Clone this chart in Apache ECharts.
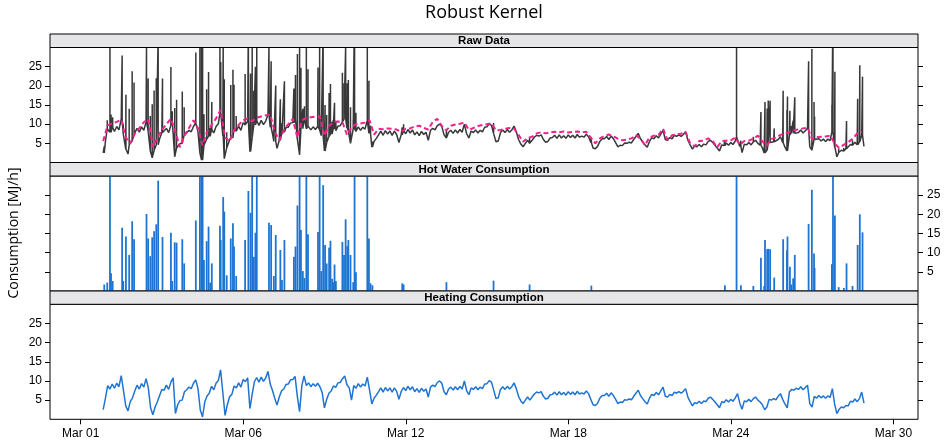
<!DOCTYPE html>
<html><head><meta charset="utf-8">
<script src="https://cdn.jsdelivr.net/npm/echarts@6/dist/echarts.min.js"></script>
<style>html,body{margin:0;padding:0;background:#fff}#c{width:944px;height:447px}</style>
</head><body><div id="c"></div>
<script>
// ---- data (x in days since the "Mar 01" tick) ----
const xTickValues = [0, 6, 12, 18, 24, 30];
const xTickLabels = ['Mar 01', 'Mar 06', 'Mar 12', 'Mar 18', 'Mar 24', 'Mar 30'];
const yTickValues = [5, 10, 15, 20, 25];
const panelTitles = ['Raw Data', 'Hot Water Consumption', 'Heating Consumption'];

// heating consumption, 2-hourly from day 0.83
const heatStart = 0.83;
const heatStepDays = 1 / 12;
const heating = [
  2.5,5.5,8.8,7.9,9.2,8.1,9.4,8.5,11.4,7.5,3.5,2.2,
  4.6,5.6,7.4,8.9,7.9,9.3,8.4,10.6,8.2,3.0,1.2,3.2,
  4.6,6.2,7.8,7.6,8.9,7.8,9.7,10.8,1.5,3.8,4.9,5.0,
  7.2,7.7,8.4,8.0,9.4,10.3,8.0,2.5,0.6,4.5,6.1,6.8,
  8.6,7.7,9.4,10.1,12.9,7.0,1.0,3.8,5.9,6.5,8.7,8.2,
  9.5,8.4,10.4,9.8,10.8,2.8,6.5,9.8,10.9,9.7,11.0,9.9,
  10.8,12.5,9.2,7.5,5.5,3.7,5.8,7.4,7.9,9.1,9.2,10.3,
  10.4,11.2,6.0,2.0,8.8,11.3,8.8,9.5,8.5,9.3,8.6,9.4,
  8.5,7.0,3.0,5.2,6.8,7.4,8.7,8.3,9.5,9.6,10.6,11.3,
  9.0,8.2,5.0,8.8,8.1,9.3,8.4,9.2,8.7,11.0,7.6,4.0,
  5.5,6.3,7.2,8.2,7.1,8.3,7.4,8.2,7.1,8.2,7.3,5.2,
  7.2,8.3,7.5,8.6,7.7,8.5,7.2,8.0,7.0,8.1,7.3,7.9,
  5.8,8.4,8.9,8.5,9.6,10.0,9.4,7.2,6.4,7.9,8.4,7.6,
  8.5,7.7,8.6,7.9,10.0,7.5,6.4,8.2,7.8,8.5,7.7,8.4,
  8.0,9.2,9.3,10.1,9.7,7.6,5.4,5.6,7.8,8.5,7.8,8.6,
  7.9,8.5,9.5,8.0,6.0,4.8,4.1,5.0,5.8,5.0,5.8,6.6,
  7.1,6.9,7.2,6.0,5.3,5.5,6.4,6.5,7.1,6.3,7.2,6.4,
  7.0,6.3,7.2,6.5,7.1,6.4,7.3,6.6,6.9,6.6,7.4,6.7,
  5.2,3.8,3.6,4.2,5.5,6.2,6.2,6.8,6.0,6.9,6.2,5.2,
  4.1,4.5,4.4,5.1,5.0,5.3,5.1,6.0,6.8,7.6,6.2,5.4,
  4.6,4.0,5.5,6.5,6.2,7.0,6.4,7.4,8.4,6.0,5.8,6.5,
  6.2,7.1,6.8,7.2,6.8,7.3,8.0,5.8,4.6,3.5,4.3,4.1,
  4.7,4.1,4.8,4.6,5.5,5.8,5.2,4.5,3.8,3.0,4.6,4.4,
  5.1,4.5,5.2,4.7,5.6,6.7,4.2,2.6,4.8,4.6,5.2,4.6,
  5.4,5.8,5.0,4.5,3.8,2.5,3.2,5.2,5.0,5.4,5.1,6.0,
  6.7,5.2,4.0,3.0,7.2,7.8,7.6,8.1,7.8,8.5,7.7,8.3,
  8.9,4.1,3.2,6.0,5.5,6.2,5.6,6.1,5.5,6.1,5.7,8.0,
  4.0,1.5,2.6,3.2,3.0,3.6,3.5,4.7,4.5,5.3,4.6,5.4,
  7.1,4.2
];

// robust kernel fit (pink dashed), 4-hourly from day 0.83
const kernelStart = 0.83;
const kernelStepDays = 1 / 6;
const kernel = [
  5.6,9.7,10.2,10.6,11.2,6.5,5.0,7.5,9.0,10.5,11.3,
  4.0,6.5,8.5,10.0,11.4,8.0,4.0,7.0,9.0,11.0,
  9.0,4.5,8.0,9.8,11.5,13.7,6.5,5.5,8.5,9.8,
  11.0,11.5,10.8,11.7,12.0,12.3,12.5,8.0,5.8,8.4,
  10.0,11.4,6.5,11.0,11.6,11.8,12.0,12.0,7.0,9.5,
  10.5,10.7,10.5,7.2,9.2,10.0,10.2,10.4,11.0,7.3,
  8.8,8.7,8.9,8.8,8.6,8.0,8.8,8.9,9.4,9.6,
  9.0,8.6,10.6,11.4,9.5,8.4,9.6,9.9,10.1,10.4,
  8.5,9.0,9.5,9.8,10.0,10.2,8.4,8.5,8.8,9.0,
  8.8,7.2,5.4,6.4,6.7,7.6,7.9,7.6,7.9,8.0,
  7.9,8.1,7.8,8.0,8.1,7.9,8.0,6.5,5.0,6.3,
  6.9,7.3,6.8,6.2,5.8,6.0,6.3,7.1,6.2,4.5,
  6.6,7.0,7.2,8.8,5.9,7.1,7.3,7.5,8.0,5.0,
  4.2,5.6,5.7,6.3,5.6,4.0,5.6,5.7,5.8,6.5,
  4.6,5.6,5.7,6.2,7.0,5.5,4.4,6.1,6.5,7.2,
  7.5,8.0,8.4,8.6,8.9,9.1,6.1,6.6,6.7,6.8,
  7.0,5.0,3.8,4.6,5.3,6.2,7.6,8.0
];

// hot water events (day, MJ/h); values above 30 run off the panel
const hotWaterDays = [
  0.87,0.98,1.08,1.12,1.18,1.53,1.57,1.67,1.79,1.90,1.97,2.43,2.49,2.57,2.64,2.71,2.79,2.86,3.02,
  3.33,3.38,3.47,3.54,3.75,3.82,4.25,4.40,4.46,4.50,4.55,4.65,4.72,4.78,4.84,5.14,5.17,5.26,5.30,
  5.39,5.54,5.62,5.66,5.74,6.07,6.19,6.27,6.33,6.39,6.45,6.50,6.95,7.03,7.13,7.20,7.37,7.43,7.52,
  7.87,7.93,8.00,8.08,8.13,8.20,8.26,8.33,8.39,8.76,8.82,8.88,8.95,9.02,9.08,9.17,9.22,9.28,9.32,
  9.37,9.42,9.66,9.72,9.78,9.84,9.88,9.96,10.06,10.11,10.16,10.58,10.64,10.70,10.77,11.87,11.92,
  13.50,15.24,16.57,18.85,23.78,24.21,24.37,24.83,25.11,25.23,25.26,25.34,25.38,25.45,25.60,25.93,
  26.07,26.09,26.18,26.23,26.30,26.36,26.87,26.99,27.07,27.09,27.73,27.77,27.84,27.98,28.17,28.27,
  28.49,28.68,28.76,28.86
];
const hotWaterVals = [
  1.7,2.2,35,4.6,2.6,16.5,2.6,14.2,9.4,18.2,13.5,20.1,13.7,9.1,14.0,15.6,17.4,28.8,14.1,
  15.2,2.6,12.7,12.6,13.5,7.2,18.4,35,40,35,8.1,13.0,16.8,2.2,7.2,17.0,13.3,24.5,20.7,
  4.1,13.7,17.7,11.6,3.9,13.3,26.1,20.4,35,8.9,15.2,35,17.8,17.2,3.9,14.6,10.7,2.9,13.3,
  8.9,11.6,22.3,35,15.9,5.2,3.4,35,14.8,15.4,35,5.2,27.6,12.0,7.2,11.3,13.1,3.2,2.3,
  6.9,2.6,12.8,9.4,18.7,11.7,13.3,9.4,2.3,35,4.9,35,13.7,2.0,1.5,2.0,1.7,
  2.3,2.7,1.7,1.4,1.5,35,1.5,1.3,8.7,1.3,13.3,10.9,11.0,10.9,3.5,13.5,
  10.6,14.2,6.3,1.7,3.3,9.4,17.5,26.4,9.8,6.0,7.0,35,19.7,1.0,0.8,7.2,
  1.3,12.0,20.0,15.3
];

// ---- build tables ----
const heatPts = heating.map((v, i) => [heatStart + i * heatStepDays, v]);
const kernelPts = kernel.map((v, i) => [kernelStart + i * kernelStepDays, v]);
const hotPts = hotWaterDays.map((t, k) => [t, hotWaterVals[k]]);
const rawTmp = heatPts.map(p => [p[0], p[1], 0]);
hotWaterDays.forEach((t, k) => {
  const idx = Math.min(heating.length - 1, Math.max(0, Math.round((t - heatStart) / heatStepDays)));
  const b = heating[idx];
  rawTmp.push([t, b, 1], [t, b + hotWaterVals[k], 2], [t, b, 3]);
});
rawTmp.sort((a, b) => (a[0] - b[0]) || (a[2] - b[2]));
const rawPts = rawTmp.map(p => [p[0], p[1]]);

const X_MIN = -1.133, X_MAX = 30.908;
const LEFT = 50, RIGHT = 26, W = 944 - LEFT - RIGHT;
const gridTops = [47.5, 176, 304.3];
const gridH = 115;
const stripTops = [34, 162.5, 291];

const fontAxis = '"Liberation Sans", Arial, Helvetica, sans-serif';
const BLUE = '#1f74d2';

function yAx(grid, pos, labels) {
  return {
    type: 'value', gridIndex: grid, position: pos, min: 0, max: 30,
    axisLine: { show: false, onZero: false },
    splitLine: { show: false },
    axisTick: { show: true, inside: false, length: 5, customValues: yTickValues, lineStyle: { color: '#000', width: 1 } },
    axisLabel: { show: labels, customValues: yTickValues, color: '#000', fontSize: 12, fontFamily: fontAxis, margin: pos === 'left' ? 8 : 9 }
  };
}

const xAxes = [0, 1, 2].map(g => ({
  type: 'value', gridIndex: g, min: X_MIN, max: X_MAX, show: g === 2, position: 'bottom',
  axisLine: { show: false, onZero: false },
  splitLine: { show: false },
  axisTick: { show: true, length: 5, customValues: xTickValues, lineStyle: { color: '#000', width: 1 } },
  axisLabel: {
    show: true, customValues: xTickValues, color: '#000', fontSize: 12, fontFamily: fontAxis, margin: 8,
    formatter: v => { const i = xTickValues.indexOf(Math.round(v)); return i >= 0 ? xTickLabels[i] : ''; }
  }
}));

const graphics = [
  { type: 'text', x: 484, y: 13, style: { text: 'Robust Kernel', font: '18px "Open Sans", sans-serif', fill: '#000', textAlign: 'center', textVerticalAlign: 'middle' } },
  { type: 'text', x: 14, y: 233, rotation: Math.PI / 2, style: { text: 'Consumption [MJ/h]', font: '14px "Open Sans", sans-serif', fill: '#000', textAlign: 'center', textVerticalAlign: 'middle' } }
];
panelTitles.forEach((t, i) => {
  graphics.push({ type: 'rect', shape: { x: LEFT, y: stripTops[i], width: W, height: gridTops[i] - stripTops[i] }, style: { fill: '#e6e6e8', stroke: '#000', lineWidth: 1 }, z: 10 });
  graphics.push({ type: 'text', x: LEFT + W / 2, y: stripTops[i] + ((gridTops[i] - stripTops[i]) / 2) + 0.5, style: { text: t, font: 'bold 11.5px "Liberation Sans", Arial, sans-serif', fill: '#000', textAlign: 'center', textVerticalAlign: 'middle' }, z: 11 });
});

const option = {
  animation: false,
  backgroundColor: '#fff',
  grid: gridTops.map(t => ({ left: LEFT, width: W, top: t, height: gridH, show: true, borderColor: '#000', borderWidth: 1, backgroundColor: 'transparent', containLabel: false })),
  xAxis: xAxes,
  yAxis: [
    yAx(0, 'left', true), yAx(0, 'right', false),
    yAx(1, 'left', false), yAx(1, 'right', true),
    yAx(2, 'left', true), yAx(2, 'right', false)
  ],
  graphic: graphics,
  series: [
    { name: 'Raw Data', type: 'line', xAxisIndex: 0, yAxisIndex: 0, data: rawPts, showSymbol: false, clip: true,
      lineStyle: { color: '#383838', width: 1.5 } },
    { name: 'Robust Kernel', type: 'line', xAxisIndex: 0, yAxisIndex: 0, data: kernelPts, showSymbol: false, clip: true,
      lineStyle: { color: '#f5208f', width: 2, type: [5, 3] } },
    { name: 'Hot Water', type: 'bar', xAxisIndex: 1, yAxisIndex: 2, data: hotPts, barWidth: 1.8, clip: true,
      itemStyle: { color: BLUE } },
    { name: 'Heating', type: 'line', xAxisIndex: 2, yAxisIndex: 4, data: heatPts, showSymbol: false, clip: true,
      lineStyle: { color: BLUE, width: 1.5 } }
  ]
};
const chart = echarts.init(document.getElementById('c'), null, { renderer: 'canvas' });
chart.setOption(option);
</script></body></html>
